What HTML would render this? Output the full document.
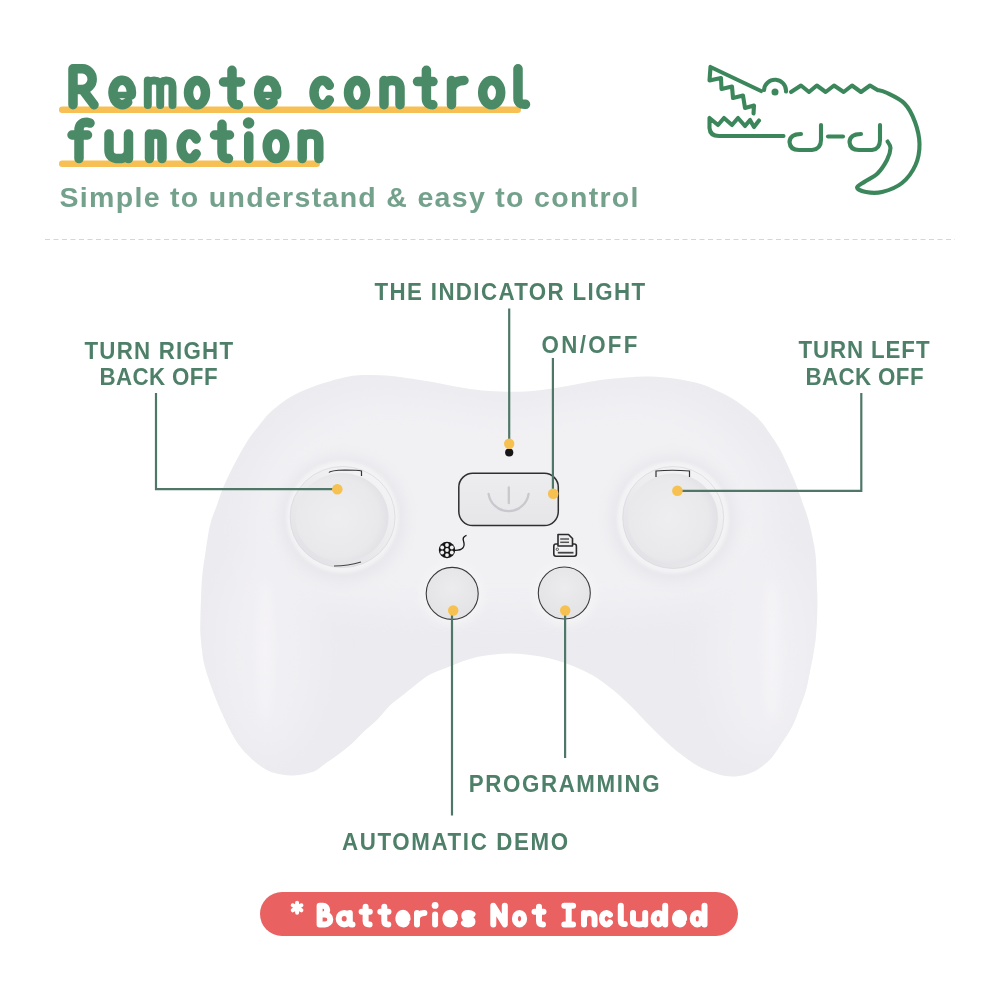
<!DOCTYPE html>
<html><head><meta charset="utf-8">
<style>
html,body{margin:0;padding:0;background:#fff;}
body{width:1000px;height:1000px;overflow:hidden;position:relative;font-family:"Liberation Sans",sans-serif;}
svg{position:absolute;left:0;top:0;will-change:transform;}
</style></head>
<body>
<svg width="1000" height="1000" viewBox="0 0 1000 1000">
<defs>
  <clipPath id="bodyClip"><path d="M200.4 634.0 C200.1 628.7 200.3 623.3 200.4 618.0 C200.5 612.7 200.7 607.3 200.9 602.0 C201.1 596.7 201.2 591.3 201.5 586.0 C201.8 580.7 202.2 575.3 202.8 570.0 C203.4 564.7 204.4 559.3 205.2 554.0 C206.0 548.7 206.7 543.3 207.6 538.0 C208.5 532.7 209.3 527.4 210.8 522.0 C212.3 516.6 214.8 511.0 216.8 505.5 C218.8 500.0 220.4 494.4 222.6 489.0 C224.8 483.6 227.2 478.3 229.8 473.0 C232.4 467.7 235.3 462.3 238.2 457.0 C241.1 451.7 244.9 445.0 247.4 441.0 C249.9 437.0 251.1 435.6 253.0 433.0 C254.9 430.4 256.5 428.5 259.0 425.4 C261.5 422.3 265.0 417.8 268.0 414.6 C271.0 411.5 274.0 409.0 277.0 406.5 C280.0 404.0 283.0 401.8 286.0 399.8 C289.0 397.7 292.0 395.9 295.0 394.4 C298.0 392.8 301.0 391.6 304.0 390.3 C307.0 389.0 310.0 387.8 313.0 386.7 C316.0 385.6 319.0 384.5 322.0 383.6 C325.0 382.6 328.0 381.7 331.0 380.9 C334.0 380.0 336.8 379.4 340.0 378.6 C343.2 377.8 346.3 376.8 350.0 376.2 C353.7 375.6 358.0 375.2 362.0 375.0 C366.0 374.8 370.0 374.9 374.0 375.0 C378.0 375.1 382.0 375.3 386.0 375.6 C390.0 375.9 394.0 376.3 398.0 376.8 C402.0 377.3 404.0 377.6 410.0 378.5 C416.0 379.4 426.0 380.8 434.0 382.2 C442.0 383.6 450.0 385.6 458.0 387.0 C466.0 388.4 474.0 389.8 482.0 390.6 C490.0 391.4 498.0 391.7 506.0 391.8 C514.0 391.9 522.0 391.8 530.0 391.2 C538.0 390.6 546.0 389.4 554.0 388.2 C562.0 387.0 570.0 385.4 578.0 384.0 C586.0 382.6 594.0 380.9 602.0 379.8 C610.0 378.7 618.0 377.9 626.0 377.4 C634.0 376.8 642.0 376.3 650.0 376.5 C658.0 376.7 665.8 377.4 674.0 378.6 C682.2 379.8 691.8 381.6 699.0 383.6 C706.2 385.6 711.0 388.0 717.0 390.8 C723.0 393.5 729.0 396.4 735.0 400.2 C741.0 404.0 748.5 409.9 753.0 413.7 C757.5 417.4 759.1 419.3 762.0 422.7 C764.9 426.1 767.2 429.8 770.1 434.0 C773.0 438.2 776.5 443.3 779.2 448.0 C781.9 452.7 784.0 457.3 786.2 462.0 C788.4 466.7 790.5 471.3 792.5 476.0 C794.5 480.7 796.4 485.3 798.1 490.0 C799.9 494.7 801.4 499.3 803.0 504.0 C804.6 508.7 806.5 513.3 807.9 518.0 C809.3 522.7 810.3 527.3 811.4 532.0 C812.5 536.7 813.4 541.3 814.2 546.0 C815.0 550.7 815.6 554.3 816.0 560.0 C816.4 565.7 816.5 574.2 816.7 580.0 C816.9 585.8 817.2 590.0 817.3 595.0 C817.4 600.0 817.4 605.0 817.3 610.0 C817.2 615.0 817.0 620.0 816.7 625.0 C816.4 630.0 816.1 635.0 815.5 640.0 C814.9 645.0 814.1 650.0 813.2 655.0 C812.3 660.0 811.4 664.2 810.2 670.0 C809.0 675.8 807.8 683.7 806.0 690.0 C804.2 696.3 801.9 702.0 799.6 708.0 C797.3 714.0 795.2 720.4 792.4 726.0 C789.6 731.6 786.2 736.4 782.8 741.6 C779.4 746.8 775.8 752.8 772.0 757.2 C768.2 761.6 764.0 765.2 760.0 768.0 C756.0 770.8 752.0 772.6 748.0 774.0 C744.0 775.4 740.0 776.1 736.0 776.4 C732.0 776.7 728.3 776.6 724.0 775.8 C719.7 775.0 714.5 773.2 710.0 771.5 C705.5 769.8 701.3 768.0 697.0 765.5 C692.7 763.0 688.3 759.8 684.0 756.6 C679.7 753.4 675.3 750.0 671.0 746.2 C666.7 742.4 662.3 738.1 658.0 733.9 C653.7 729.7 649.3 725.3 645.0 720.9 C640.7 716.5 636.3 711.5 632.0 707.2 C627.7 702.9 623.3 698.7 619.0 694.9 C614.7 691.1 610.3 687.8 606.0 684.5 C601.7 681.2 598.3 678.4 593.0 675.4 C587.7 672.4 579.8 668.8 574.0 666.4 C568.2 664.0 563.3 662.4 558.0 660.8 C552.7 659.2 547.3 657.9 542.0 656.8 C536.7 655.7 531.3 654.9 526.0 654.4 C520.7 653.9 515.3 653.6 510.0 653.6 C504.7 653.6 499.3 653.9 494.0 654.4 C488.7 654.9 483.3 655.6 478.0 656.8 C472.7 658.0 467.3 659.7 462.0 661.6 C456.7 663.5 451.3 665.9 446.0 668.0 C440.7 670.1 434.8 671.9 430.0 674.5 C425.2 677.1 421.3 680.5 417.0 683.8 C412.7 687.1 408.3 690.7 404.0 694.2 C399.7 697.7 395.3 700.5 391.0 704.6 C386.7 708.7 382.3 714.6 378.0 718.9 C373.7 723.2 369.3 726.5 365.0 730.6 C360.7 734.7 356.3 739.7 352.0 743.6 C347.7 747.5 343.3 750.8 339.0 754.0 C334.7 757.2 330.2 760.2 326.0 763.1 C321.8 766.0 319.0 769.5 314.0 771.5 C309.0 773.5 301.4 774.8 296.0 775.3 C290.6 775.8 286.5 775.4 281.8 774.6 C277.1 773.8 272.2 772.5 267.8 770.4 C263.4 768.3 259.6 765.7 255.2 762.0 C250.8 758.3 245.0 752.7 241.2 748.0 C237.3 743.3 234.8 738.7 232.1 734.0 C229.4 729.3 227.3 724.7 225.1 720.0 C222.9 715.3 220.8 710.7 218.8 706.0 C216.8 701.3 214.9 696.7 213.2 692.0 C211.4 687.3 209.8 682.7 208.3 678.0 C206.8 673.3 205.2 668.7 204.1 664.0 C203.0 659.3 202.6 655.0 202.0 650.0 C201.4 645.0 200.7 639.3 200.4 634.0Z"/></clipPath>
  <filter id="blur8" x="-50%" y="-50%" width="200%" height="200%"><feGaussianBlur stdDeviation="8"/></filter>
  <filter id="blur4" x="-50%" y="-50%" width="200%" height="200%"><feGaussianBlur stdDeviation="4"/></filter>
  <filter id="blur05" x="-5%" y="-5%" width="110%" height="110%"><feGaussianBlur stdDeviation="0.6"/></filter>
  <filter id="blur2" x="-50%" y="-50%" width="200%" height="200%"><feGaussianBlur stdDeviation="1.5"/></filter>
  <filter id="blur15" x="-50%" y="-50%" width="200%" height="200%"><feGaussianBlur stdDeviation="15"/></filter>
  <radialGradient id="capG" cx="0.45" cy="0.5" r="0.55">
    <stop offset="0" stop-color="#eeeef0"/>
    <stop offset="0.8" stop-color="#e9e9ec"/>
    <stop offset="1" stop-color="#e2e2e6"/>
  </radialGradient>
  <linearGradient id="ringG" x1="0.2" y1="0.9" x2="0.8" y2="0.1">
    <stop offset="0" stop-color="#e3e3e7"/>
    <stop offset="1" stop-color="#f3f3f5"/>
  </linearGradient>
  <linearGradient id="btnG" x1="0" y1="0" x2="0" y2="1">
    <stop offset="0" stop-color="#ededf0"/>
    <stop offset="1" stop-color="#e6e6e9"/>
  </linearGradient>
  <radialGradient id="smallG" cx="0.5" cy="0.4" r="0.6">
    <stop offset="0" stop-color="#ececef"/>
    <stop offset="1" stop-color="#e3e3e6"/>
  </radialGradient>
</defs>

<!-- title underlines -->
<rect x="59" y="106.5" width="462" height="6.5" rx="3.2" fill="#f6c054"/>
<rect x="59" y="160.5" width="261" height="6.5" rx="3.2" fill="#f6c054"/>

<!-- title -->
<g fill="none" stroke="#4a8a66" stroke-width="9.5" stroke-linecap="round" stroke-linejoin="round"><path d="M73 104.75 V68.75 H82.5 A10 10.38 0 0 1 82.5 89.50 H73 M82.5 89.50 L94 104.75 M131.20 94.92 A9.20 12.12 0 1 0 127.70 102.14 M188.50 92.62 A8.50 12.12 0 1 0 205.50 92.62 A8.50 12.12 0 1 0 188.50 92.62 M232.00 70.25 V98.25 Q232.00 104.75 238.50 104.75 M223.50 82.00 H240.50 M276.50 94.92 A9.00 12.12 0 1 0 273.08 102.14 M329.30 85.35 A8.50 12.12 0 1 0 329.30 99.90 M348.50 92.62 A8.50 12.12 0 1 0 365.50 92.62 A8.50 12.12 0 1 0 348.50 92.62 M384.00 104.75 V80.50 M384.00 88.50 Q384.00 80.50 392.00 80.50 Q400.00 80.50 400.00 88.50 V104.75 M426.40 70.25 V98.25 Q426.40 104.75 432.90 104.75 M417.50 81.60 H433.00 M451.5 104.75 V80.50 M451.5 88.50 Q454 80.50 464 80.50 M482.70 92.62 A9.00 12.12 0 1 0 500.70 92.62 A9.00 12.12 0 1 0 482.70 92.62 M518 68.75 V98.25 Q518 104.75 525.5 104.25"/><path d="M147.8 105.05 V80.50 M147.8 86.50 Q147.8 80.50 154 80.50 Q160.2 80.50 160.2 86.50 V105.05 M160.2 86.50 Q160.2 80.50 166.3 80.50 Q172.5 80.50 172.5 86.50 V105.05" stroke-width="8"/><path d="M79 158.60 V130.25 Q79 122.25 87 122.25 L90 123.05 M72 135 H87.5 M109 134.00 V150.60 Q109 158.60 118.75 158.60 Q128.5 158.60 128.5 150.60 M128.5 134.00 V158.60 M149.50 158.60 V134.00 M149.50 140.25 Q149.50 134.00 155.75 134.00 Q162.00 134.00 162.00 140.25 V158.60 M196.14 138.92 A8.30 12.30 0 1 0 196.14 153.68 M222.00 124.25 V152.10 Q222.00 158.60 228.50 158.60 M214.50 135.00 H229.50 M248.75 136.00 V158.60 M267.20 146.30 A8.80 12.30 0 1 0 284.80 146.30 A8.80 12.30 0 1 0 267.20 146.30 M302.20 158.60 V134.00 M302.20 142.30 Q302.20 134.00 310.50 134.00 Q318.80 134.00 318.80 142.30 V158.60"/><path d="M112.80 94.92 H131.20 M258.50 94.92 H276.50" stroke-width="6.5" stroke-linecap="butt"/></g><circle cx="248.6" cy="123" r="5.8" fill="#4a8a66"/>

<!-- subtitle -->
<text transform="translate(59.5 206.5) scale(1 1)" font-family="Liberation Sans" font-weight="bold" font-size="28.5" fill="#73a18c" textLength="579.0" lengthAdjust="spacing">Simple to understand &amp; easy to control</text>

<!-- dashed line -->
<line x1="45" y1="239.5" x2="955" y2="239.5" stroke="#d6d6d6" stroke-width="1" stroke-dasharray="5 3.5"/>

<!-- crocodile -->
<g fill="none" stroke="#3b875b" stroke-width="4.1" stroke-linecap="round" stroke-linejoin="round">
  <path d="M761 91 L710.5 67 L709.5 80.5 L721 78 L721.5 89 L732 86.5 L733 98 L743 95.5 L745 108 L754 105.5 L753.5 113.5"/>
  <path d="M764 90 A11 11 0 1 1 786 91.5"/>
  <path d="M791 92 L801 85.5 L809 92 L816.8 85.5 L825.7 92 L834 85.5 L843.7 92 L852 85.5 L861 92 L870 85.5 L877.5 90.0 C878.9 90.4 881.5 90.2 886.0 92.5 C890.5 94.8 899.7 98.6 904.5 103.5 C909.3 108.4 912.5 115.2 915.0 122.0 C917.5 128.8 919.4 136.8 919.5 144.0 C919.6 151.2 918.4 158.5 915.5 165.0 C912.6 171.5 907.6 178.5 902.0 183.0 C896.4 187.5 888.0 190.5 882.0 192.0 C876.0 193.5 870.2 192.8 866.0 192.0 C861.8 191.2 857.2 189.2 857.0 187.5 C856.8 185.8 861.6 183.8 865.0 181.5 C868.4 179.2 873.8 177.1 877.5 173.5 C881.2 169.9 884.8 164.2 887.0 160.0 C889.2 155.8 890.4 151.1 890.5 148.0 C890.6 144.9 888.0 142.6 887.5 141.5"/>
  <path d="M759 120.5 L754 127 L750 120 L745 126 L738 118 L732 125 L724 118 L718 125 L709.5 118 L709.5 128 Q710 136 719 136 L783.5 136"/>
  <path d="M801 134 Q790 134 789.5 142 Q790 150 799 150 L812 150 Q821 149 821 140 L821 125"/>
  <path d="M828 136.5 L843 136.5"/>
  <path d="M861 134 Q850 134 849.5 142 Q850 150 859 150 L872 150 Q880 149 880 140 L880 125"/>
</g>
<circle cx="775" cy="92" r="3.5" fill="#3d875c"/>

<!-- controller body -->
<path d="M200.4 634.0 C200.1 628.7 200.3 623.3 200.4 618.0 C200.5 612.7 200.7 607.3 200.9 602.0 C201.1 596.7 201.2 591.3 201.5 586.0 C201.8 580.7 202.2 575.3 202.8 570.0 C203.4 564.7 204.4 559.3 205.2 554.0 C206.0 548.7 206.7 543.3 207.6 538.0 C208.5 532.7 209.3 527.4 210.8 522.0 C212.3 516.6 214.8 511.0 216.8 505.5 C218.8 500.0 220.4 494.4 222.6 489.0 C224.8 483.6 227.2 478.3 229.8 473.0 C232.4 467.7 235.3 462.3 238.2 457.0 C241.1 451.7 244.9 445.0 247.4 441.0 C249.9 437.0 251.1 435.6 253.0 433.0 C254.9 430.4 256.5 428.5 259.0 425.4 C261.5 422.3 265.0 417.8 268.0 414.6 C271.0 411.5 274.0 409.0 277.0 406.5 C280.0 404.0 283.0 401.8 286.0 399.8 C289.0 397.7 292.0 395.9 295.0 394.4 C298.0 392.8 301.0 391.6 304.0 390.3 C307.0 389.0 310.0 387.8 313.0 386.7 C316.0 385.6 319.0 384.5 322.0 383.6 C325.0 382.6 328.0 381.7 331.0 380.9 C334.0 380.0 336.8 379.4 340.0 378.6 C343.2 377.8 346.3 376.8 350.0 376.2 C353.7 375.6 358.0 375.2 362.0 375.0 C366.0 374.8 370.0 374.9 374.0 375.0 C378.0 375.1 382.0 375.3 386.0 375.6 C390.0 375.9 394.0 376.3 398.0 376.8 C402.0 377.3 404.0 377.6 410.0 378.5 C416.0 379.4 426.0 380.8 434.0 382.2 C442.0 383.6 450.0 385.6 458.0 387.0 C466.0 388.4 474.0 389.8 482.0 390.6 C490.0 391.4 498.0 391.7 506.0 391.8 C514.0 391.9 522.0 391.8 530.0 391.2 C538.0 390.6 546.0 389.4 554.0 388.2 C562.0 387.0 570.0 385.4 578.0 384.0 C586.0 382.6 594.0 380.9 602.0 379.8 C610.0 378.7 618.0 377.9 626.0 377.4 C634.0 376.8 642.0 376.3 650.0 376.5 C658.0 376.7 665.8 377.4 674.0 378.6 C682.2 379.8 691.8 381.6 699.0 383.6 C706.2 385.6 711.0 388.0 717.0 390.8 C723.0 393.5 729.0 396.4 735.0 400.2 C741.0 404.0 748.5 409.9 753.0 413.7 C757.5 417.4 759.1 419.3 762.0 422.7 C764.9 426.1 767.2 429.8 770.1 434.0 C773.0 438.2 776.5 443.3 779.2 448.0 C781.9 452.7 784.0 457.3 786.2 462.0 C788.4 466.7 790.5 471.3 792.5 476.0 C794.5 480.7 796.4 485.3 798.1 490.0 C799.9 494.7 801.4 499.3 803.0 504.0 C804.6 508.7 806.5 513.3 807.9 518.0 C809.3 522.7 810.3 527.3 811.4 532.0 C812.5 536.7 813.4 541.3 814.2 546.0 C815.0 550.7 815.6 554.3 816.0 560.0 C816.4 565.7 816.5 574.2 816.7 580.0 C816.9 585.8 817.2 590.0 817.3 595.0 C817.4 600.0 817.4 605.0 817.3 610.0 C817.2 615.0 817.0 620.0 816.7 625.0 C816.4 630.0 816.1 635.0 815.5 640.0 C814.9 645.0 814.1 650.0 813.2 655.0 C812.3 660.0 811.4 664.2 810.2 670.0 C809.0 675.8 807.8 683.7 806.0 690.0 C804.2 696.3 801.9 702.0 799.6 708.0 C797.3 714.0 795.2 720.4 792.4 726.0 C789.6 731.6 786.2 736.4 782.8 741.6 C779.4 746.8 775.8 752.8 772.0 757.2 C768.2 761.6 764.0 765.2 760.0 768.0 C756.0 770.8 752.0 772.6 748.0 774.0 C744.0 775.4 740.0 776.1 736.0 776.4 C732.0 776.7 728.3 776.6 724.0 775.8 C719.7 775.0 714.5 773.2 710.0 771.5 C705.5 769.8 701.3 768.0 697.0 765.5 C692.7 763.0 688.3 759.8 684.0 756.6 C679.7 753.4 675.3 750.0 671.0 746.2 C666.7 742.4 662.3 738.1 658.0 733.9 C653.7 729.7 649.3 725.3 645.0 720.9 C640.7 716.5 636.3 711.5 632.0 707.2 C627.7 702.9 623.3 698.7 619.0 694.9 C614.7 691.1 610.3 687.8 606.0 684.5 C601.7 681.2 598.3 678.4 593.0 675.4 C587.7 672.4 579.8 668.8 574.0 666.4 C568.2 664.0 563.3 662.4 558.0 660.8 C552.7 659.2 547.3 657.9 542.0 656.8 C536.7 655.7 531.3 654.9 526.0 654.4 C520.7 653.9 515.3 653.6 510.0 653.6 C504.7 653.6 499.3 653.9 494.0 654.4 C488.7 654.9 483.3 655.6 478.0 656.8 C472.7 658.0 467.3 659.7 462.0 661.6 C456.7 663.5 451.3 665.9 446.0 668.0 C440.7 670.1 434.8 671.9 430.0 674.5 C425.2 677.1 421.3 680.5 417.0 683.8 C412.7 687.1 408.3 690.7 404.0 694.2 C399.7 697.7 395.3 700.5 391.0 704.6 C386.7 708.7 382.3 714.6 378.0 718.9 C373.7 723.2 369.3 726.5 365.0 730.6 C360.7 734.7 356.3 739.7 352.0 743.6 C347.7 747.5 343.3 750.8 339.0 754.0 C334.7 757.2 330.2 760.2 326.0 763.1 C321.8 766.0 319.0 769.5 314.0 771.5 C309.0 773.5 301.4 774.8 296.0 775.3 C290.6 775.8 286.5 775.4 281.8 774.6 C277.1 773.8 272.2 772.5 267.8 770.4 C263.4 768.3 259.6 765.7 255.2 762.0 C250.8 758.3 245.0 752.7 241.2 748.0 C237.3 743.3 234.8 738.7 232.1 734.0 C229.4 729.3 227.3 724.7 225.1 720.0 C222.9 715.3 220.8 710.7 218.8 706.0 C216.8 701.3 214.9 696.7 213.2 692.0 C211.4 687.3 209.8 682.7 208.3 678.0 C206.8 673.3 205.2 668.7 204.1 664.0 C203.0 659.3 202.6 655.0 202.0 650.0 C201.4 645.0 200.7 639.3 200.4 634.0Z" fill="#ecebf0" filter="url(#blur05)"/>
<g clip-path="url(#bodyClip)">
  <path d="M250 560 C230 470 300 400 380 395 C440 395 470 410 508 410 C545 410 580 395 640 395 C720 400 790 470 770 560 C760 600 700 610 508 612 C320 610 260 600 250 560 Z" fill="#f1f1f4" filter="url(#blur15)"/>
  <ellipse cx="268" cy="650" rx="50" ry="105" fill="#f0eff3" filter="url(#blur15)"/>
  <ellipse cx="762" cy="650" rx="52" ry="105" fill="#f0eff3" filter="url(#blur15)"/>
  <ellipse cx="265" cy="650" rx="8" ry="70" fill="#f4f3f6" filter="url(#blur4)"/>
  <ellipse cx="772" cy="650" rx="9" ry="70" fill="#f4f3f6" filter="url(#blur4)"/>
</g>

<!-- joysticks -->
<g>
  <circle cx="342.5" cy="519" r="62" fill="#e6e5ea" filter="url(#blur8)"/>
  <circle cx="342.5" cy="517" r="56" fill="#f3f3f5" filter="url(#blur2)"/>
  <ellipse cx="342.6" cy="517" rx="52.5" ry="50.5" fill="url(#ringG)" stroke="#dadade" stroke-width="0.8"/>
  <ellipse cx="342" cy="517.5" rx="46.5" ry="44.5" fill="url(#capG)"/>
  <path d="M329 472.5 Q330 470.5 345 470 Q358 470 361.5 471 L361.5 476" fill="none" stroke="#333" stroke-width="1.2"/>
  <path d="M334 566 Q348 566 361 562" fill="none" stroke="#444" stroke-width="1.2"/>
</g>
<g>
  <circle cx="673" cy="519" r="62" fill="#e6e5ea" filter="url(#blur8)"/>
  <circle cx="673" cy="517.5" r="56" fill="#f3f3f5" filter="url(#blur2)"/>
  <ellipse cx="673.2" cy="517.5" rx="50.5" ry="51" fill="url(#ringG)" stroke="#dadade" stroke-width="0.8"/>
  <ellipse cx="673" cy="518.5" rx="45" ry="45" fill="url(#capG)"/>
  <path d="M656 477 L656 471 Q672 469.5 689.5 471 L689.5 477" fill="none" stroke="#333" stroke-width="1.2"/>
</g>

<!-- power button -->
<rect x="458.8" y="473.3" width="99.5" height="52.3" rx="14" fill="url(#btnG)" stroke="#2f2f2f" stroke-width="1.5"/>
<path d="M488.6 493.8 A20.2 20.2 0 0 0 528.6 493.8" fill="none" stroke="#c9c9cd" stroke-width="2.3" stroke-linecap="round"/>
<line x1="508.8" y1="487.4" x2="508.8" y2="503.2" stroke="#c9c9cd" stroke-width="2.3" stroke-linecap="round"/>

<!-- small buttons -->
<circle cx="452.5" cy="594" r="31" fill="#f4f4f6" filter="url(#blur4)"/>
<circle cx="564.5" cy="594" r="31" fill="#f4f4f6" filter="url(#blur4)"/>
<circle cx="452.2" cy="593.4" r="26" fill="url(#smallG)" stroke="#3a3a3a" stroke-width="1.1"/>
<circle cx="564.3" cy="593" r="26" fill="url(#smallG)" stroke="#3a3a3a" stroke-width="1.1"/>

<!-- film reel icon -->
<circle cx="447" cy="550" r="8.2" fill="#151515"/>
<g fill="#f2f2f4">
  <circle cx="447" cy="550" r="1.9"/>
  <circle cx="447" cy="545" r="1.9"/>
  <circle cx="447" cy="555.1" r="1.9"/>
  <circle cx="442.2" cy="547.5" r="1.9"/>
  <circle cx="451.8" cy="547.5" r="1.9"/>
  <circle cx="442.2" cy="552.5" r="1.9"/>
  <circle cx="451.8" cy="552.5" r="1.9"/>
</g>
<path d="M454.5 550.3 Q460.5 550.5 462.8 548 Q465 545.5 463.5 541 Q462 537 466.5 535.3" fill="none" stroke="#151515" stroke-width="1.3"/>

<!-- printer icon -->
<rect x="553.8" y="544" width="22.6" height="12.3" rx="2.2" fill="#f4f4f6" stroke="#2a2a2a" stroke-width="1.6"/>
<path d="M558 546 L558 534.5 L568.5 534.5 L572.5 538.5 L572.5 546 Z" fill="#ededf0" stroke="#2a2a2a" stroke-width="1.6" stroke-linejoin="round"/>
<g stroke="#555" stroke-width="1.5">
  <line x1="560.2" y1="539" x2="569" y2="539"/>
  <line x1="560.2" y1="542.3" x2="569" y2="542.3"/>
  <line x1="557.8" y1="552.7" x2="573.5" y2="552.7" stroke="#444" stroke-width="1.8"/>
</g>
<circle cx="557.3" cy="549.3" r="1.2" fill="none" stroke="#444" stroke-width="0.9"/>

<!-- indicator LED -->
<circle cx="509.2" cy="452.5" r="4.1" fill="#161616"/>

<!-- leader lines -->
<g stroke="#4f7767" stroke-width="2.2" fill="none">
  <path d="M156 393 L156 489.2 L337 489.2"/>
  <path d="M509.2 308.5 L509.2 444"/>
  <path d="M552.9 358 L552.9 494"/>
  <path d="M861.3 393 L861.3 490.8 L677 490.8"/>
  <path d="M452 611 L452 815.5"/>
  <path d="M565.1 611 L565.1 758"/>
</g>
<g fill="#f6c150">
  <circle cx="337.3" cy="489.2" r="5.3"/>
  <circle cx="509.2" cy="443.7" r="5.2"/>
  <circle cx="553.2" cy="493.8" r="5.3"/>
  <circle cx="677.4" cy="490.8" r="5.3"/>
  <circle cx="453.2" cy="610.5" r="5.2"/>
  <circle cx="565.2" cy="610.5" r="5.2"/>
</g>

<!-- labels -->
<g font-family="Liberation Sans" font-weight="bold" fill="#4e8069">
<text transform="translate(374.5 300.0) scale(0.930 1)" font-size="24" textLength="290.9" lengthAdjust="spacing">THE INDICATOR LIGHT</text>
<text transform="translate(541.5 353.0) scale(0.930 1)" font-size="24" textLength="103.2" lengthAdjust="spacing">ON/OFF</text>
<text transform="translate(84.5 358.5) scale(0.930 1)" font-size="24" textLength="159.7" lengthAdjust="spacing">TURN RIGHT</text>
<text transform="translate(99.5 384.5) scale(0.930 1)" font-size="24" textLength="126.9" lengthAdjust="spacing">BACK OFF</text>
<text transform="translate(798.5 358.2) scale(0.930 1)" font-size="24" textLength="140.9" lengthAdjust="spacing">TURN LEFT</text>
<text transform="translate(805.5 385.2) scale(0.930 1)" font-size="24" textLength="126.9" lengthAdjust="spacing">BACK OFF</text>
<text transform="translate(468.7 792.3) scale(0.930 1)" font-size="24" textLength="205.4" lengthAdjust="spacing">PROGRAMMING</text>
<text transform="translate(342.0 850.1) scale(0.930 1)" font-size="24" textLength="243.0" lengthAdjust="spacing">AUTOMATIC DEMO</text>
</g>

<!-- pill -->
<rect x="260" y="892" width="478" height="44" rx="22" fill="#ea6161"/>
<g fill="none" stroke="#fff" stroke-width="6.0" stroke-linecap="round" stroke-linejoin="round"><path d="M319.6 924.40 V905.70 H323 A4.2 4.35 0 0 1 323 914.40 H319.6 M319.6 914.40 H325 A5.3 5.00 0 0 1 325 924.40 H319.6 M338.70 918.65 A5.50 5.75 0 1 0 349.70 918.65 A5.50 5.75 0 1 0 338.70 918.65 M349.8 912.90 V921.40 Q349.8 924.40 352.5 924.40 M365.60 906.70 V920.90 Q365.60 924.40 369.60 924.40 M361.60 911.8 H369.80 M384.30 906.70 V920.90 Q384.30 924.40 388.30 924.40 M380.30 911.8 H388.50 M398.40 918.65 H407.60 A4.60 5.75 0 1 0 406.45 922.45 M417 924.40 V912.90 M417 917.90 Q418.5 912.90 424.4 912.90 M435.1 914.40 V924.40 M445.40 918.65 H455.00 A4.80 5.75 0 1 0 453.80 922.45 M472.5 914.20 Q471 912.90 468.3 912.90 Q464.3 912.90 464.3 915.70 Q464.3 918.65 468.3 918.65 Q472.5 918.95 472.5 921.60 Q472.5 924.40 468.3 924.40 Q465.2 924.40 464 923.10 M493.3 924.40 V905.70 L504.8 924.40 V905.70 M514.90 918.65 A4.60 5.75 0 1 0 524.10 918.65 A4.60 5.75 0 1 0 514.90 918.65 M539.00 906.70 V920.90 Q539.00 924.40 543.00 924.40 M534.50 911.8 H543.50 M568.7 905.70 V924.40 M564.3 905.70 H573.1 M564.3 924.40 H573.1 M584.00 924.40 V912.90 M584.00 918.20 Q584.00 912.90 589.30 912.90 Q594.60 912.90 594.60 918.20 V924.40 M609.95 914.85 A4.60 5.75 0 1 0 609.95 922.45 M620.8 905.70 V920.90 Q620.8 924.40 624.8 924.10 M633 912.90 V920.40 Q633 924.40 639.1 924.40 Q645.2 924.40 645.2 920.40 M645.2 912.90 V924.40 M653.60 918.65 A4.60 5.75 0 1 0 662.80 918.65 A4.60 5.75 0 1 0 653.60 918.65 M665.20 905.70 V924.40 M692.70 918.65 A4.60 5.75 0 1 0 701.90 918.65 A4.60 5.75 0 1 0 692.70 918.65 M704.50 905.70 V924.40 M675.00 918.65 H684.20 A4.60 5.75 0 1 0 683.05 922.45"/></g><circle cx="435.1" cy="905.4" r="3.4" fill="#fff"/><path d="M297.10 902.80 L297.10 912.80 M292.77 905.30 L301.43 910.30 M301.43 905.30 L292.77 910.30 " fill="none" stroke="#fff" stroke-width="4.0" stroke-linecap="round"/>
</svg>
</body></html>
